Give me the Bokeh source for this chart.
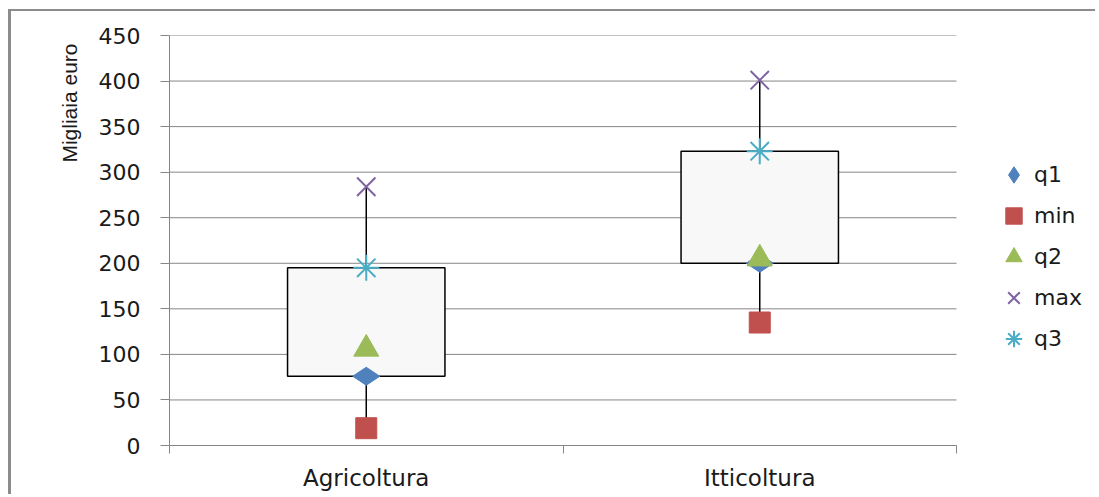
import math
from bokeh.plotting import figure
from bokeh.models import FixedTicker, Legend, LegendItem, Title, Range1d
from bokeh.embed import file_html
from bokeh.resources import INLINE

categories = ["Agricoltura", "Itticoltura"]
q1 = [76, 200]
min_vals = [19, 135]
q2 = [106, 205]
max_vals = [284, 401]
q3 = [195, 323]
y_ticks = [0, 50, 100, 150, 200, 250, 300, 350, 400, 450]
y_label = "Migliaia euro"

n = len(categories)
xs = [i + 0.5 for i in range(n)]
bounds = list(range(n + 1))

GRID = "#868686"
TXT = "#1a1a1a"

W, H = 1087, 485
BORDER_L, BORDER_T, BORDER_B = 158, 24, 51
CAT_PX = 787  # width of the category area, the legend sits to its right
x_end = n * (W - BORDER_L) / CAT_PX

p = figure(width=W, height=H, output_backend="svg", toolbar_location=None,
           x_range=Range1d(0, x_end), y_range=Range1d(0, y_ticks[-1]),
           min_border_left=BORDER_L, min_border_right=0, min_border_top=BORDER_T,
           min_border_bottom=BORDER_B)
p.outline_line_color = None
p.background_fill_color = "white"
p.border_fill_color = "white"
p.styles = {"border-top": "2px solid #8c8c8c", "border-left": "3px solid #8c8c8c",
            "margin-left": "8px", "margin-top": "9px"}

# grid (limited to the category area)
p.xgrid.visible = False
p.ygrid.visible = False
p.segment(x0=[0] * len(y_ticks), y0=y_ticks, x1=[n] * len(y_ticks), y1=y_ticks,
          line_color=GRID, line_width=1)

# y axis
p.yaxis.ticker = FixedTicker(ticks=y_ticks)
p.yaxis.axis_line_color = GRID
p.yaxis.major_tick_line_color = GRID
p.yaxis.major_tick_out = 9
p.yaxis.major_tick_in = 0
p.yaxis.minor_tick_line_color = None
p.yaxis.major_label_text_font = "DejaVu Sans"
p.yaxis.major_label_text_font_size = "22px"
p.yaxis.major_label_text_color = TXT
p.yaxis.major_label_standoff = 20

# x axis
p.xaxis.ticker = FixedTicker(ticks=xs, minor_ticks=bounds)
p.xaxis.bounds = (0, n)
p.xaxis.major_label_overrides = {x: c for x, c in zip(xs, categories)}
p.xaxis.axis_line_color = GRID
p.xaxis.major_tick_line_color = None
p.xaxis.major_tick_out = 0
p.xaxis.major_tick_in = 0
p.xaxis.minor_tick_line_color = GRID
p.xaxis.minor_tick_out = 8
p.xaxis.minor_tick_in = 0
p.xaxis.major_label_text_font = "DejaVu Sans"
p.xaxis.major_label_text_font_size = "23px"
p.xaxis.major_label_text_color = TXT
p.xaxis.major_label_standoff = 11

# whiskers and boxes
p.segment(x0=xs, y0=min_vals, x1=xs, y1=max_vals, line_color="black", line_width=1.5)
p.vbar(x=xs, width=0.4, bottom=q1, top=q3, fill_color="#F8F8F8",
       line_color="black", line_width=1.5)

# markers
r_q1 = p.scatter(xs, q1, marker="diamond", size=27, angle=math.pi / 2,
                 fill_color="#4F81BD", line_color="#4F81BD")
r_min = p.scatter(xs, min_vals, marker="square", size=21,
                  fill_color="#C0504D", line_color="#C0504D")
r_q2 = p.scatter(xs, q2, marker="triangle", size=25,
                 fill_color="#9BBB59", line_color="#9BBB59")
r_max = p.scatter(xs, max_vals, marker="x", size=26,
                  line_color="#8064A2", line_width=2)
r_q3 = p.scatter(xs, q3, marker="asterisk", size=26,
                 line_color="#4BACC6", line_width=2)

legend = Legend(items=[
    LegendItem(label="q1", renderers=[r_q1]),
    LegendItem(label="min", renderers=[r_min]),
    LegendItem(label="q2", renderers=[r_q2]),
    LegendItem(label="max", renderers=[r_max]),
    LegendItem(label="q3", renderers=[r_q3]),
], location=(824, 86), glyph_width=41, glyph_height=41, label_height=41,
    spacing=0, padding=0, margin=0, label_standoff=-12,
    border_line_color=None, background_fill_alpha=0,
    label_text_font="DejaVu Sans", label_text_font_size="22px",
    label_text_color=TXT)
p.add_layout(legend)

ytitle = Title(text=y_label, align="right", offset=8,
               text_font="Liberation Sans", text_font_size="21px",
               text_font_style="normal", text_color=TXT, standoff=29)
p.add_layout(ytitle, "left")

open("out.html", "w").write(file_html(p, INLINE))
